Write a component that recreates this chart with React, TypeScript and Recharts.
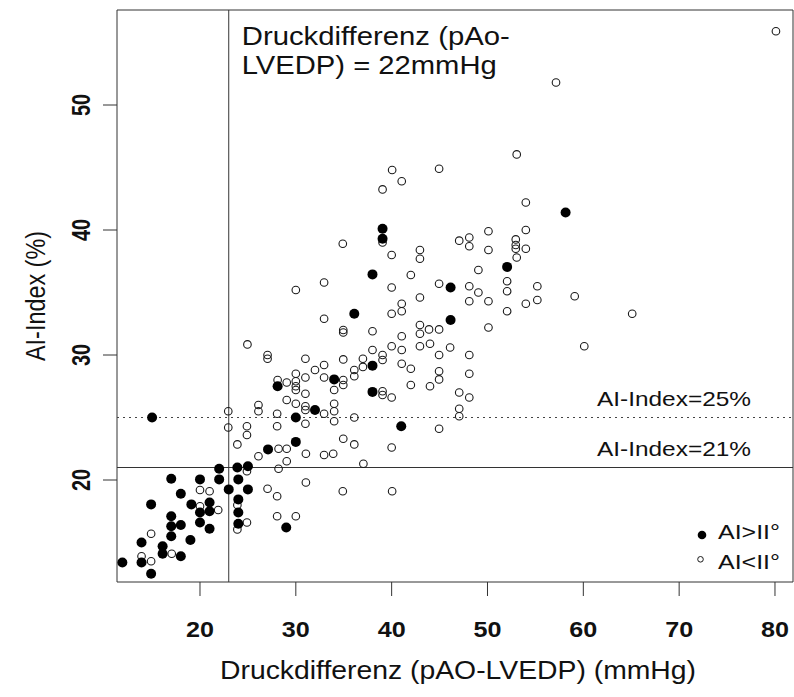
import React from 'react';
import { ScatterChart, Scatter, XAxis, YAxis, ReferenceLine, ReferenceArea, Legend } from 'recharts';

const FONT = '"Liberation Sans", Arial, Helvetica, sans-serif';
const LINE = '#333';

const X_DOMAIN: [number, number] = [11.34, 81.88];
const Y_DOMAIN: [number, number] = [11.84, 57.6];
const xTicks = [20, 30, 40, 50, 60, 70, 80];
const yTicks = [20, 30, 40, 50];

const xTitle = 'Druckdifferenz (pAO-LVEDP) (mmHg)';
const yTitle = 'AI-Index (%)';
const noteLines = ['Druckdifferenz (pAo-', 'LVEDP) = 22mmHg'];
const cutPressure = 23;
const cutIndexDotted = 25;
const cutIndexSolid = 21;
const dottedLabel = 'AI-Index=25%';
const solidLabel = 'AI-Index=21%';
const legendSevere = 'AI>II°';
const legendMild = 'AI<II°';

// AI > II° (filled)
const severePoints: [number, number][] = [
  [15, 25.0], [22, 20.9], [23.9, 21.0], [25, 21.1], [17, 20.1], [20, 20.05], [22, 20.05], [24, 20.05],
  [18, 18.9], [23, 19.25], [25, 19.25], [14.9, 18.05], [19.1, 18.05], [21, 18.2], [24, 18.45],
  [20, 17.4], [21, 17.5], [17, 17.1], [24, 17.4], [18, 16.4], [20, 16.6], [21, 16.1], [17, 16.3],
  [24, 16.5], [17, 15.5], [19, 15.2], [13.9, 15.0], [16.1, 14.7], [16.1, 14.1], [18, 13.9],
  [11.9, 13.4], [13.9, 13.4], [14.9, 12.5], [29, 16.2], [28.1, 27.5], [30, 25.0], [30, 23.05],
  [27.1, 22.45], [38, 36.45], [36.1, 33.3], [38, 29.15], [34, 28.05], [38, 27.05], [32, 25.6],
  [41, 24.3], [39.05, 40.1], [39.05, 39.3], [46.15, 35.4], [46.15, 32.8], [58.15, 41.4], [52.05, 37.05],
];

// AI < II° (open)
const mildLowPoints: [number, number][] = [
  [22.95, 25.5], [22.95, 24.2], [26.1, 26.0], [26.1, 25.5], [24.9, 24.3], [24.9, 23.6], [23.9, 22.85],
  [26.1, 21.9], [28.05, 25.3], [28.05, 24.3], [28.2, 22.5], [29.05, 22.5], [29.05, 21.5], [28.2, 20.9],
  [24.9, 20.7], [31.05, 22.1], [31.05, 19.8], [27.05, 19.3], [28.05, 18.7], [28.05, 17.1], [30, 17.1],
  [20, 19.2], [21, 19.1], [20, 17.9], [21.9, 17.6], [23.9, 18.0], [24.9, 16.6], [23.9, 16.05],
  [14.9, 15.7], [17.05, 14.1], [13.9, 13.9], [14.9, 13.5],
];

const mildMidPoints: [number, number][] = [
  [40, 38.0], [32.95, 35.8], [30, 35.2], [40, 35.4], [40, 33.3], [32.95, 32.9], [34.95, 32.0], [34.95, 31.8],
  [38, 31.9], [40, 30.7], [24.95, 30.85], [27.05, 30.0], [27.05, 29.7], [31, 29.7], [34.95, 29.65],
  [38, 30.4], [37, 29.7], [39.05, 30.0], [39.05, 29.6], [32.95, 29.2], [32, 28.8], [30, 28.5], [31, 28.2],
  [32.95, 28.2], [36.1, 28.8], [36.1, 28.3], [37, 29.05], [34.95, 28.0], [34.95, 27.6], [28.1, 28.0],
  [29.05, 27.8], [30, 27.9], [30, 27.5], [30, 27.2], [31, 26.9], [34, 27.2], [39.05, 27.1], [39.05, 26.8],
  [40, 26.6], [29.05, 26.4], [30, 26.1], [31, 25.9], [31, 25.6], [34, 26.1], [34, 25.5], [34, 24.7],
  [32.95, 25.3], [31, 24.5], [36.1, 25.0], [34.95, 23.3], [36.1, 22.85], [40, 22.6],
  [32.95, 22.0], [33.9, 22.1], [37.05, 21.3], [34.9, 19.1], [40.05, 19.1],
];

const mildHighPoints: [number, number][] = [
  [40.05, 44.8], [41.05, 43.9], [39.05, 43.25], [44.95, 44.9], [34.9, 38.9], [39.05, 39.0], [42.95, 38.4],
  [42.95, 37.7], [47.05, 39.15], [48.1, 39.4], [48.1, 38.7], [50.1, 39.9], [50.1, 38.4], [49.05, 36.8],
  [42, 36.4], [44.95, 35.7], [48.1, 35.5], [49.05, 35.0], [42.95, 34.6], [48.1, 34.3], [50.1, 34.3],
  [41.05, 34.1], [41.05, 33.5], [42.95, 32.4], [42.95, 31.7], [43.9, 32.05], [44.95, 32.05], [41.05, 31.5],
  [50.1, 32.2], [42.95, 30.7], [44, 30.9], [46.1, 30.6], [48.1, 30.0], [41.05, 30.4], [41.05, 29.3],
  [42, 28.9], [44.95, 30.0], [44.95, 28.7], [44.95, 28.05], [44, 27.5], [42, 27.6], [48.1, 28.5],
  [47.05, 27.0], [48.1, 26.6], [47.05, 25.7], [47.05, 25.1], [44.95, 24.1],
  [80.1, 55.9], [57.15, 51.8], [53.05, 46.05], [54, 42.2], [54, 40.0], [52.95, 39.25], [52.95, 38.8],
  [52.95, 38.5], [54, 38.5], [53.05, 37.8], [52.05, 35.9], [52.05, 35.1], [55.2, 35.5], [55.2, 34.4],
  [54, 34.1], [52.05, 33.5], [59.1, 34.7], [65.1, 33.3], [60.1, 30.7],
];

const toRows = (pts: [number, number][]) => pts.map(([x, y]) => ({ x, y }));
const severeData = toRows(severePoints);
const mildData = toRows([...mildLowPoints, ...mildMidPoints, ...mildHighPoints]);

const OpenDot = (p: any) => (
  <circle cx={p.cx} cy={p.cy} r={3.8} fill="none" stroke="#1a1a1a" strokeWidth={1.1} />
);
const FilledDot = (p: any) => <circle cx={p.cx} cy={p.cy} r={5} fill="#000" />;

const XTick = (p: any) => (
  <text x={p.x} y={p.y + 39} textAnchor="middle" fontFamily={FONT} fontWeight="bold" fontSize={22}
    fill="#111" textLength={28} lengthAdjust="spacingAndGlyphs">
    {p.payload.value}
  </text>
);

const YTick = (p: any) => (
  <g transform={`translate(${p.x - 11},${p.y}) rotate(-90) scale(1,1.3)`}>
    <text x={0} y={0} textAnchor="middle" fontFamily={FONT} fontWeight="bold" fontSize={20} fill="#111">
      {p.payload.value}
    </text>
  </g>
);

const XTitle = (p: any) => {
  const vb = p.viewBox;
  return (
    <text x={vb.x + vb.width / 2 + 3} y={vb.y + 97} textAnchor="middle" fontFamily={FONT} fontSize={25}
      fill="#111" textLength={476} lengthAdjust="spacingAndGlyphs">
      {xTitle}
    </text>
  );
};

const YTitle = (p: any) => {
  const vb = p.viewBox;
  return (
    <g transform={`translate(45,${vb.y + vb.height / 2}) rotate(-90) scale(1,1.15)`}>
      <text x={0} y={0} textAnchor="middle" fontFamily={FONT} fontSize={24} fill="#111"
        textLength={130} lengthAdjust="spacingAndGlyphs">
        {yTitle}
      </text>
    </g>
  );
};

const NoteLabel = (p: any) => {
  const vb = p.viewBox;
  return (
    <g fontFamily={FONT} fontSize={25} fill="#111">
      <text x={vb.x + 13} y={vb.y + 35} textLength={268} lengthAdjust="spacingAndGlyphs">{noteLines[0]}</text>
      <text x={vb.x + 13} y={vb.y + 64} textLength={255} lengthAdjust="spacingAndGlyphs">{noteLines[1]}</text>
    </g>
  );
};

const makeLineLabel = (txt: string) => (p: any) => {
  const vb = p.viewBox;
  return (
    <text x={vb.x + vb.width - 196} y={vb.y - 11.5} fontFamily={FONT} fontSize={21} fill="#111"
      textLength={154} lengthAdjust="spacingAndGlyphs">
      {txt}
    </text>
  );
};

const LegendBox = () => (
  <svg width={110} height={64} style={{ display: 'block', overflow: 'visible' }}>
    <circle cx={12} cy={23} r={4.3} fill="#000" />
    <circle cx={10.5} cy={47.3} r={2.8} fill="none" stroke="#1a1a1a" strokeWidth={1} />
    <text x={28} y={26.7} fontFamily={FONT} fontSize={20.5} fill="#111" textLength={62} lengthAdjust="spacingAndGlyphs">{legendSevere}</text>
    <text x={28} y={56.7} fontFamily={FONT} fontSize={20.5} fill="#111" textLength={62} lengthAdjust="spacingAndGlyphs">{legendMild}</text>
  </svg>
);

export default function App() {
  return (
    <div style={{ position: 'absolute', left: 0, top: 0, width: 794, height: 697, background: '#fff' }}>
      <ScatterChart width={794} height={697} margin={{ top: 10, right: 1, bottom: 0, left: 0 }}>
        <XAxis type="number" dataKey="x" domain={X_DOMAIN} ticks={xTicks} allowDataOverflow
          height={115} axisLine={false} tickLine={{ stroke: LINE }} tickSize={14} tick={<XTick />}
          label={XTitle} interval={0} />
        <YAxis type="number" dataKey="y" domain={Y_DOMAIN} ticks={yTicks} allowDataOverflow
          width={117} axisLine={false} tickLine={{ stroke: LINE }} tickSize={14} tick={<YTick />}
          label={YTitle} interval={0} />
        <ReferenceArea x1={X_DOMAIN[0]} x2={X_DOMAIN[1]} y1={Y_DOMAIN[0]} y2={Y_DOMAIN[1]}
          fill="none" stroke={LINE} strokeWidth={1} fillOpacity={0} />
        <ReferenceLine y={cutIndexDotted} stroke="#444" strokeDasharray="2 4" label={makeLineLabel(dottedLabel)} />
        <ReferenceLine y={cutIndexSolid} stroke={LINE} label={makeLineLabel(solidLabel)} />
        <ReferenceLine x={cutPressure} stroke={LINE} label={NoteLabel} />
        <Scatter name={legendMild} data={mildData} shape={OpenDot} isAnimationActive={false} />
        <Scatter name={legendSevere} data={severeData} shape={FilledDot} isAnimationActive={false} />
        <Legend content={LegendBox} layout="horizontal" verticalAlign="middle" align="center"
          wrapperStyle={{ left: 690, top: 512, width: 110, height: 64 }} />
      </ScatterChart>
    </div>
  );
}
